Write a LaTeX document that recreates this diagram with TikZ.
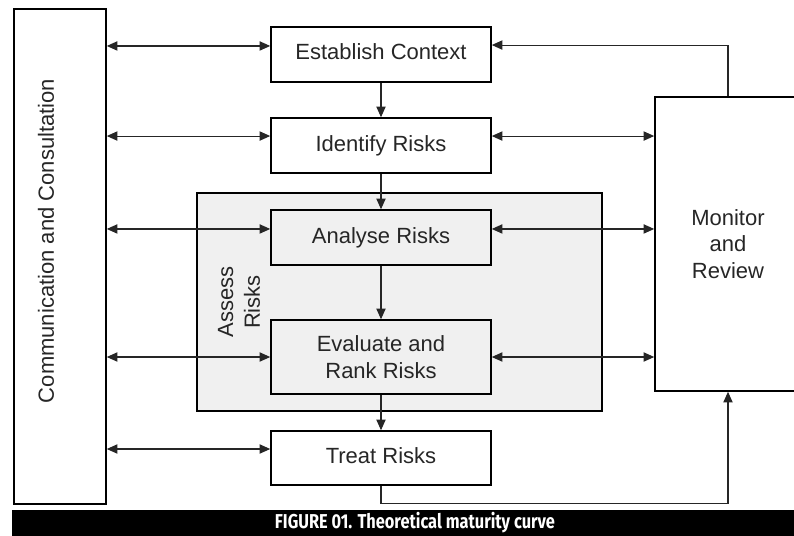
\documentclass[tikz,border=0pt]{standalone}
\usepackage{fontspec}
\setmainfont{Liberation Sans}
\newfontfamily\capfont{Fira Sans}
\usetikzlibrary{arrows.meta,calc}
\begin{document}
\begin{tikzpicture}[x=0.75pt,y=-0.75pt,
  box/.style={draw=black,line width=1.2pt,inner sep=0pt,align=center,
    font=\fontsize{16.5}{20}\selectfont,text=black!85},
  conn/.style={line width=0.8pt,draw=black!85},
  arr/.style={conn,-{Triangle[length=8pt,width=7pt]}},
  dbl/.style={conn,{Triangle[length=8pt,width=7pt]}-{Triangle[length=8pt,width=7pt]}},
  lbl/.style={font=\fontsize{16.5}{20}\selectfont,text=black!85,align=center,inner sep=0pt}]
\useasboundingbox (0,0) rectangle (794,536);
\begin{scope}
\clip (0,0) rectangle (794,536);
% assess group
\node[box,fill=black!6,minimum width=303.75pt,minimum height=163.5pt] (as) at (399.5,302) {};
\node[lbl,rotate=90] (asl) at (239,302) {Assess\\Risks};
% communication
\node[box,minimum width=69pt,minimum height=371.25pt] (comm) at (60,256.5) {};
\node[lbl,rotate=90] (comml) at (46,241) {Communication and Consultation};
% monitor
\node[box,minimum width=109.5pt,minimum height=220.5pt] (mon) at (728,244) {Monitor\\and\\Review};
% process boxes
\node[box,minimum width=165pt,minimum height=41.25pt] (ec) at (381,54.5) {\raisebox{4pt}{Establish Context}};
\node[box,minimum width=165pt,minimum height=41.25pt] (id) at (381,145.5) {\raisebox{3pt}{Identify Risks}};
\node[box,minimum width=165pt,minimum height=41.25pt] (an) at (381,237.5) {\raisebox{3pt}{Analyse Risks}};
\node[box,minimum width=165pt,minimum height=55.5pt] (ev) at (381,357) {Evaluate and\\Rank Risks};
\node[box,fill=white,minimum width=165pt,minimum height=40.5pt] (tr) at (381,458) {\raisebox{4pt}{Treat Risks}};
% left double arrows
\coordinate (ecL) at ([yshift=6.4pt]ec.west);
\coordinate (idL) at ([yshift=7.1pt]id.west);
\coordinate (anL) at ([yshift=6.4pt]an.west);
\coordinate (evL) at (ev.west);
\coordinate (trL) at ([yshift=6.75pt]tr.west);
\draw[dbl] (comm.east |- ecL) -- (ecL);
\draw[dbl] (comm.east |- idL) -- (idL);
\draw[dbl] (comm.east |- anL) -- (anL);
\draw[dbl] (comm.east |- evL) -- (evL);
\draw[dbl] (comm.east |- trL) -- (trL);
% right double arrows
\coordinate (idR) at ([yshift=7.1pt]id.east);
\coordinate (anR) at ([yshift=6.4pt]an.east);
\coordinate (evR) at (ev.east);
\draw[dbl] (idR) -- (mon.west |- idR);
\draw[dbl] (anR) -- (mon.west |- anR);
\draw[dbl] (evR) -- (mon.west |- evR);
% vertical flow
\draw[arr] (ec.south) -- (id.north);
\draw[arr] (id.south) -- (an.north);
\draw[arr] (an.south) -- (ev.north);
\draw[arr] (ev.south) -- (tr.north);
% feedback
\coordinate (ecR) at ([yshift=7.1pt]ec.east);
\draw[arr] (mon.north) |- (ecR);
\draw[arr] (tr.south) -- ++(0,18) coordinate (trB) -| (mon.south);
% caption bar
\fill[black] (12,510) rectangle (794,536);
\node[text=white,inner sep=0pt] (cap) at (415,523) {\resizebox{210pt}{12.2pt}{\capfont\bfseries FIGURE 01. Theoretical maturity curve}};
\end{scope}
\end{tikzpicture}
\end{document}
